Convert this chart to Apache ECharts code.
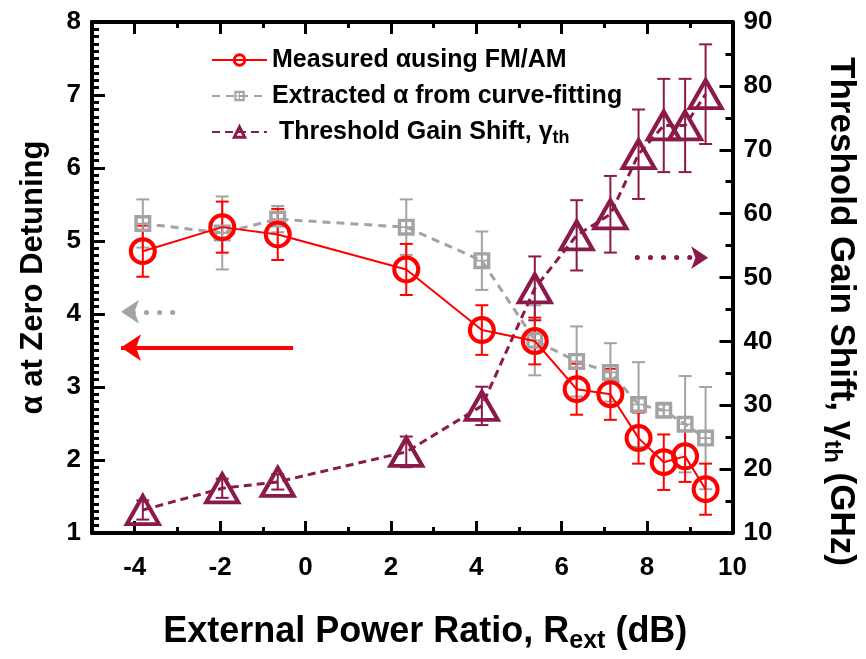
<!DOCTYPE html>
<html>
<head>
<meta charset="utf-8">
<script src="https://cdn.jsdelivr.net/npm/echarts@6/dist/echarts.min.js"></script>
<style>
html,body{margin:0;padding:0;background:#fff;}
#chart{width:866px;height:659px;}
</style>
</head>
<body>
<div id="chart"></div>
<script>
// ---- data ----
const xValues        = [-3.81, -1.95, -0.65, 2.36, 4.13, 5.37, 6.35, 7.14, 7.80, 8.39, 8.89, 9.37];
const alphaMeasured  = [4.86, 5.19, 5.09, 4.61, 3.78, 3.63, 2.97, 2.90, 2.30, 1.97, 2.05, 1.60];
const alphaMeasErr   = [0.35, 0.35, 0.35, 0.35, 0.34, 0.32, 0.35, 0.35, 0.35, 0.38, 0.35, 0.35];
const alphaFit       = [5.24, 5.11, 5.30, 5.19, 4.73, 3.64, 3.35, 3.20, 2.76, 2.68, 2.49, 2.30];
const alphaFitErr    = [0.33, 0.50, 0.18, 0.38, 0.40, 0.48, 0.48, 0.40, 0.58, 0.08, 0.66, 0.70];
const gainShift      = [13.6, 17.0, 18.0, 22.7, 29.9, 48.3, 56.6, 59.9, 69.3, 73.8, 73.8, 78.7];
const gainShiftErr   = [1.5, 1.5, 1.2, 2.4, 3.0, 5.0, 5.5, 6.0, 7.0, 7.3, 7.3, 7.8];
const xTickLabels    = [-4, -2, 0, 2, 4, 6, 8, 10];
const xMinorTicks    = [-3, -1, 1, 3, 5, 7, 9];
const seriesNames    = ['Measured \u03b1using FM/AM', 'Extracted \u03b1 from curve-fitting', 'Threshold Gain Shift, \u03b3th'];
// annotation arrows (data coordinates)
const arrowRed    = [[-0.29, 3.54], [-4.32, 3.54]];
const arrowGray   = [[-3.11, 4.03], [-4.32, 4.03]];
const arrowPurple = [[7.77, 53.1], [9.43, 53.1]];

const FF = "'Liberation Sans', Arial, sans-serif";
const RED = '#ff0000', GRAY = '#a3a3a3', PURPLE = '#8b1a4b';
const SQUARE = 'path://M0 0H10V10H0Z M2 2V4.5H4.5V2Z M5.5 2V4.5H8V2Z M2 5.5V8H4.5V5.5Z M5.5 5.5V8H8V5.5Z';

function pairs(ys) { return xValues.map((x, i) => [x, ys[i]]); }

function errSeries(ys, es, color, yAxisIndex) {
  return {
    type: 'custom', xAxisIndex: 0, yAxisIndex: yAxisIndex, silent: true, z: 1,
    encode: { x: 0, y: [1, 2] },
    data: xValues.map((x, i) => [x, ys[i] - es[i], ys[i] + es[i]]),
    renderItem: function (params, api) {
      const x = api.value(0);
      const lo = api.coord([x, api.value(1)]);
      const hi = api.coord([x, api.value(2)]);
      const w = 6.5;
      const st = { stroke: color, lineWidth: 2, fill: null };
      return { type: 'group', children: [
        { type: 'line', shape: { x1: lo[0], y1: lo[1], x2: hi[0], y2: hi[1] }, style: st },
        { type: 'line', shape: { x1: lo[0] - w, y1: lo[1], x2: lo[0] + w, y2: lo[1] }, style: st },
        { type: 'line', shape: { x1: hi[0] - w, y1: hi[1], x2: hi[0] + w, y2: hi[1] }, style: st }
      ]};
    }
  };
}

function arrowLine(pts, color, dotted, size) {
  return {
    silent: true, animation: false,
    symbol: ['none', 'arrow'], symbolSize: size,
    label: { show: false },
    emphasis: { disabled: true },
    lineStyle: dotted
      ? { color: color, width: 5, type: [0.1, 13], cap: 'round' }
      : { color: color, width: 4, type: 'solid' },
    data: [[{ coord: pts[0] }, { coord: pts[1] }]]
  };
}

const tickLine = { color: '#000', width: 3 };
const xBase = { type: 'value', min: -5, max: 10, interval: 1, gridIndex: 0, splitLine: { show: false } };

const chart = echarts.init(document.getElementById('chart'), null, { renderer: 'canvas' });
chart.setOption({
  animation: false,
  backgroundColor: '#fff',
  textStyle: { fontFamily: FF },
  grid: { left: 92, right: 126, top: 22, bottom: 119, containLabel: false },
  legend: {
    data: seriesNames,
    orient: 'vertical', left: 206, top: 42, itemGap: 10,
    itemWidth: 55, itemHeight: 13,
    itemStyle: { borderWidth: 3 },
    textStyle: {
      fontFamily: FF, fontSize: 25, fontWeight: 'bold', color: '#000', lineHeight: 26,
      rich: { sub: { fontFamily: FF, fontSize: 18, fontWeight: 'bold', color: '#000', padding: [12, 0, 0, 0] } }
    },
    formatter: function (n) { return n === seriesNames[2] ? ' Threshold Gain Shift, \u03b3{sub|th}' : n; },
    selectedMode: false
  },
  xAxis: [
    Object.assign({}, xBase, {
      position: 'bottom',
      axisLine: { show: true, onZero: false, lineStyle: { color: '#000', width: 4 } },
      axisTick: { show: true, inside: true, length: 12, lineStyle: tickLine, customValues: xTickLabels.slice(0, 7) },
      axisLabel: { customValues: xTickLabels, fontFamily: FF, fontSize: 26, fontWeight: 'bold', color: '#000', margin: 22 },
      name: 'External Power Ratio, R{sub|ext} (dB)', nameLocation: 'middle', nameGap: 77,
      nameTextStyle: { fontFamily: FF, fontSize: 36, fontWeight: 'bold', color: '#000', padding: [0, 0, 0, 26],
        rich: { sub: { fontFamily: FF, fontSize: 25, fontWeight: 'bold', color: '#000', padding: [19, 0, 0, 0] } } }
    }),
    Object.assign({}, xBase, {
      position: 'bottom', axisLine: { show: false, onZero: false },
      axisTick: { show: true, inside: true, length: 6, lineStyle: tickLine, customValues: xMinorTicks },
      axisLabel: { show: false }
    }),
    Object.assign({}, xBase, {
      position: 'top',
      axisLine: { show: true, onZero: false, lineStyle: { color: '#000', width: 4 } },
      axisTick: { show: true, inside: true, length: 12, lineStyle: tickLine, customValues: xTickLabels.slice(0, 7) },
      axisLabel: { show: false }
    }),
    Object.assign({}, xBase, {
      position: 'top', axisLine: { show: false, onZero: false },
      axisTick: { show: true, inside: true, length: 6, lineStyle: tickLine, customValues: xMinorTicks },
      axisLabel: { show: false }
    })
  ],
  yAxis: [
    {
      type: 'value', min: 1, max: 8, interval: 1, position: 'left',
      axisLine: { show: true, onZero: false, lineStyle: { color: '#000', width: 4 } },
      axisTick: { show: true, inside: true, length: 13, lineStyle: tickLine },
      minorTick: { show: true, splitNumber: 10, length: 7, lineStyle: tickLine },
      splitLine: { show: false }, minorSplitLine: { show: false },
      axisLabel: { fontFamily: FF, fontSize: 26, fontWeight: 'bold', color: '#000', margin: 11 },
      name: '\u03b1 at Zero Detuning', nameLocation: 'middle', nameRotate: 90, nameGap: 43,
      nameTextStyle: { fontFamily: FF, fontSize: 31, fontWeight: 'bold', color: '#000' }
    },
    {
      type: 'value', min: 10, max: 90, interval: 10, position: 'right',
      axisLine: { show: true, onZero: false, lineStyle: { color: '#000', width: 4 } },
      axisTick: { show: true, inside: true, length: 13, lineStyle: tickLine },
      minorTick: { show: true, splitNumber: 2, length: 7, lineStyle: tickLine },
      splitLine: { show: false }, minorSplitLine: { show: false },
      axisLabel: { fontFamily: FF, fontSize: 26, fontWeight: 'bold', color: '#000', margin: 11 },
      name: 'Threshold Gain Shift, \u03b3{sub|th} (GHz)', nameLocation: 'middle', nameRotate: -90, nameGap: 87,
      nameTextStyle: { fontFamily: FF, fontSize: 35, fontWeight: 'bold', color: '#000', padding: [0, 0, 0, 68],
        rich: { sub: { fontFamily: FF, fontSize: 24, fontWeight: 'bold', color: '#000', padding: [18, 0, 0, 0] } } }
    }
  ],
  series: [
    errSeries(alphaFit, alphaFitErr, GRAY, 0),
    errSeries(gainShift, gainShiftErr, PURPLE, 1),
    errSeries(alphaMeasured, alphaMeasErr, RED, 0),
    {
      name: seriesNames[1], type: 'line', xAxisIndex: 0, yAxisIndex: 0, z: 2,
      data: pairs(alphaFit),
      symbol: SQUARE, symbolSize: 17, showAllSymbol: true,
      itemStyle: { color: GRAY },
      lineStyle: { color: GRAY, width: 3, type: [8, 6] },
      emphasis: { disabled: true },
      markLine: arrowLine(arrowGray, GRAY, true, 18)
    },
    {
      name: seriesNames[2], type: 'line', xAxisIndex: 0, yAxisIndex: 1, z: 3,
      data: pairs(gainShift),
      symbol: 'triangle', symbolSize: [32, 28], showAllSymbol: true,
      itemStyle: { color: 'rgba(0,0,0,0)', borderColor: PURPLE, borderWidth: 4 },
      lineStyle: { color: PURPLE, width: 3, type: [8, 5] },
      emphasis: { disabled: true },
      markLine: arrowLine(arrowPurple, PURPLE, true, 17)
    },
    {
      name: seriesNames[0], type: 'line', xAxisIndex: 0, yAxisIndex: 0, z: 4,
      data: pairs(alphaMeasured),
      symbol: 'circle', symbolSize: 24, showAllSymbol: true,
      itemStyle: { color: 'rgba(0,0,0,0)', borderColor: RED, borderWidth: 4 },
      lineStyle: { color: RED, width: 2, type: 'solid' },
      emphasis: { disabled: true },
      markLine: arrowLine(arrowRed, RED, false, 20)
    }
  ]
});
</script>
</body>
</html>
